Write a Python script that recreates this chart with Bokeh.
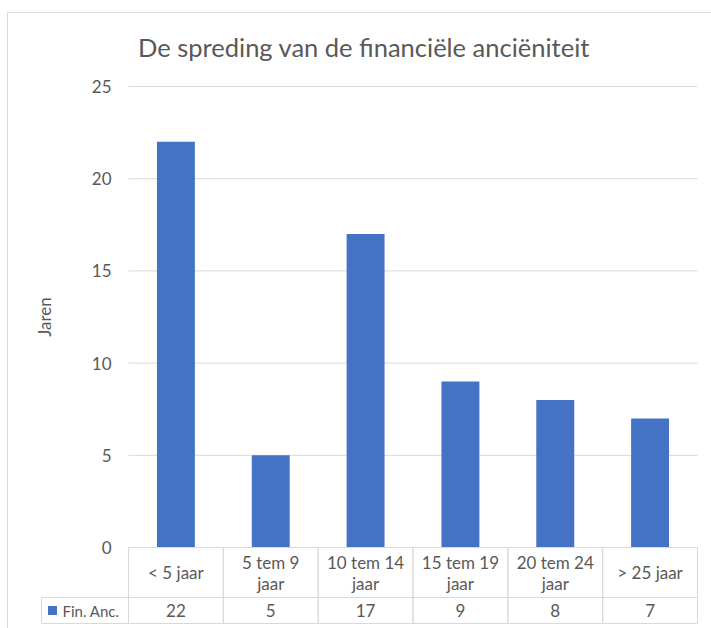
from bokeh.plotting import figure
from bokeh.models import Range1d, FixedTicker, ColumnDataSource
from bokeh.core.properties import value
from bokeh.embed import file_html
from bokeh.resources import INLINE

# ---- data ----
categories = ["< 5 jaar", "5 tem 9 jaar", "10 tem 14 jaar", "15 tem 19 jaar", "20 tem 24 jaar", "> 25 jaar"]
category_labels = ["< 5 jaar", "5 tem 9\njaar", "10 tem 14\njaar", "15 tem 19\njaar", "20 tem 24\njaar", "> 25 jaar"]
series_name = "Fin. Anc."
values = [22, 5, 17, 9, 8, 7]
y_ticks = [0, 5, 10, 15, 20, 25]
title_text = "De spreding van de financiële anciëniteit"
y_label = "Jaren"

# ---- style / layout ----
FONT = "Lato"
TXT = "#595959"
GRID = "#d9d9d9"
BAR = "#4472C4"
W, H = 711, 628
FRAME_L, FRAME_T = 6, 11          # frame origin in pixels
PLOT_L, PLOT_R = 128, 697         # plot area (pixels)
PLOT_T, PLOT_B = 86, 547
YMAX = 25
n = len(categories)
XU = (PLOT_R - PLOT_L) / n        # pixels per category
YU = (PLOT_B - PLOT_T) / YMAX     # pixels per unit


def px_x(px):
    return (px - PLOT_L) / XU


def px_y(py):
    return (PLOT_B - py) / YU


p = figure(x_range=Range1d(px_x(FRAME_L), px_x(W)), y_range=Range1d(px_y(H), px_y(FRAME_T)),
           width=W, height=H, min_border_left=FRAME_L, min_border_right=0,
           min_border_top=FRAME_T, min_border_bottom=0,
           x_axis_location=None, y_axis_location="left",
           toolbar_location=None, output_backend="svg")
p.outline_line_color = None
p.xgrid.visible = False
p.ygrid.visible = False

ax = p.yaxis[0]
ax.fixed_location = 0
ax.bounds = (0, YMAX)
ax.ticker = FixedTicker(ticks=y_ticks)
ax.axis_line_color = None
ax.major_tick_line_color = None
ax.minor_tick_line_color = None
ax.major_label_text_font = FONT
ax.major_label_text_font_size = "17px"
ax.major_label_text_color = TXT
ax.major_label_standoff = 11
ax.axis_label = y_label
ax.axis_label_text_font = FONT
ax.axis_label_text_font_size = "17px"
ax.axis_label_text_font_style = "normal"
ax.axis_label_text_color = TXT
ax.axis_label_standoff = 34

# chart border (top and left)
bx, by = px_x(7), px_y(12)
p.segment(x0=[bx, bx], y0=[by, by], x1=[px_x(W), bx], y1=[by, px_y(H)],
          line_color=GRID, line_width=1)

# horizontal gridlines over plot area
p.segment(x0=[0] * len(y_ticks), x1=[n] * len(y_ticks), y0=y_ticks, y1=y_ticks,
          line_color=GRID, line_width=1)

# bars
xs = [i + 0.5 for i in range(n)]
p.vbar(x=xs, top=values, width=0.4, fill_color=BAR, line_color=None)

# title
p.text(x=[px_x(363.5)], y=[px_y(46)], text=[title_text], text_align="center",
       text_baseline="middle", text_font=value(FONT), text_font_size="25.5px",
       text_color=TXT)

# ---- data table ----
hdr_top, hdr_bot, val_bot = px_y(547), px_y(597), px_y(623)
legend_left = px_x(41)
p.quad(left=[i for i in range(n)], right=[i + 1 for i in range(n)],
       top=[hdr_top] * n, bottom=[hdr_bot] * n,
       fill_color=None, line_color=GRID, line_width=1)
p.quad(left=[legend_left] + [i for i in range(n)], right=[0] + [i + 1 for i in range(n)],
       top=[hdr_bot] * (n + 1), bottom=[val_bot] * (n + 1),
       fill_color=None, line_color=GRID, line_width=1)

p.text(x=xs, y=[(hdr_top + hdr_bot) / 2] * n, text=category_labels,
       text_align="center", text_baseline="middle", text_font=value(FONT),
       text_font_size="17px", text_color=TXT, text_line_height=1.0)
p.text(x=xs, y=[(hdr_bot + val_bot) / 2] * n, text=[str(v) for v in values],
       text_align="center", text_baseline="middle", text_font=value(FONT),
       text_font_size="17px", text_color=TXT)

src = ColumnDataSource(dict(x=[px_x(52)], tx=[px_x(62)], y=[(hdr_bot + val_bot) / 2], t=[series_name]))
p.scatter(x="x", y="y", source=src, marker="square", size=9, fill_color=BAR, line_color=None)
p.text(x="tx", y="y", text="t", source=src, text_align="left", text_baseline="middle",
       text_font=value(FONT), text_font_size="15px", text_color=TXT)

open("out.html", "w").write(file_html(p, INLINE))
